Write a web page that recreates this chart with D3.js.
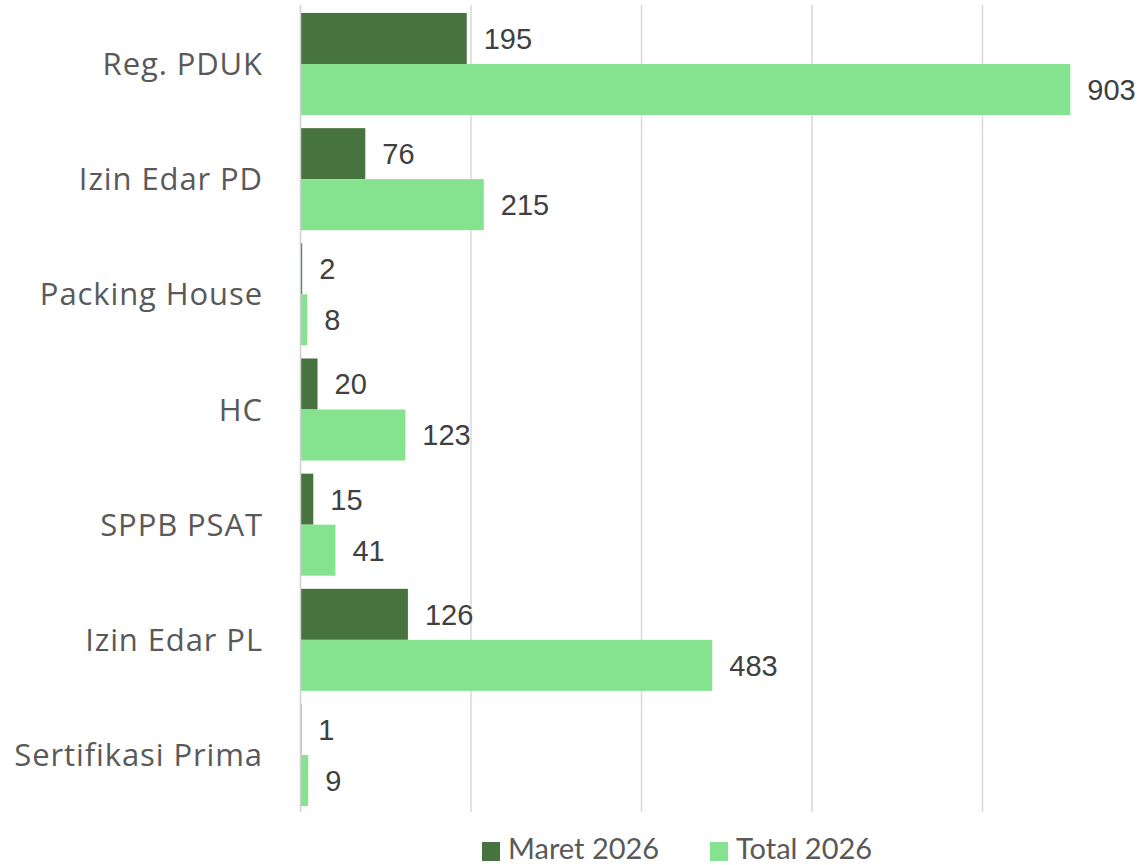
<!DOCTYPE html>
<html><head><meta charset="utf-8">
<script src="https://cdn.jsdelivr.net/npm/d3@7"></script>
<style>body{margin:0;background:#fff}svg{display:block}</style>
</head><body>
<svg id="c" width="1142" height="865"></svg>
<script>
const categories = ["Reg. PDUK","Izin Edar PD","Packing House","HC","SPPB PSAT","Izin Edar PL","Sertifikasi Prima"];
const maret2026 = [195,76,2,20,15,126,1];
const total2026 = [903,215,8,123,41,483,9];
const seriesNames = ["Maret 2026","Total 2026"];
const gridTicks = [200,400,600,800];
const colors = ["#47733F","#85E390"];

const svg = d3.select("#c");
const x = d3.scaleLinear().domain([0,800]).range([300.5,982.5]);
const y = d3.scaleBand().domain(categories).range([6.4,812.6]).paddingInner(0.114).paddingOuter(0.057);
const ySub = d3.scaleBand().domain(seriesNames).range([0,y.bandwidth()]);

svg.append("g").selectAll("line").data(gridTicks).join("line")
  .attr("x1",d=>x(d)).attr("x2",d=>x(d)).attr("y1",5).attr("y2",812)
  .attr("stroke","#d9d9d9").attr("stroke-width",1.5);

const rows = categories.map((c,i)=>({c, vals:[maret2026[i],total2026[i]]}));
const g = svg.append("g").selectAll("g").data(rows).join("g")
  .attr("transform",d=>`translate(0,${y(d.c)})`);
g.selectAll("rect").data(d=>d.vals.map((v,k)=>({v,k}))).join("rect")
  .attr("x",x(0)).attr("y",d=>ySub(seriesNames[d.k]))
  .attr("width",d=>x(d.v)-x(0)).attr("height",ySub.bandwidth())
  .attr("fill",d=>colors[d.k]);
g.selectAll("text").data(d=>d.vals.map((v,k)=>({v,k}))).join("text")
  .attr("x",d=>x(d.v)+17).attr("y",d=>ySub(seriesNames[d.k])+ySub.bandwidth()/2)
  .attr("dy","0.36em").attr("font-family","Liberation Sans, Arial, sans-serif")
  .attr("font-size",29).attr("fill","#404040").text(d=>d.v);

svg.append("line").attr("x1",x(0)).attr("x2",x(0)).attr("y1",5).attr("y2",812)
  .attr("stroke","#d0d0d0").attr("stroke-width",1.5);

svg.append("g").selectAll("text").data(categories).join("text")
  .attr("x",263).attr("y",d=>y(d)+y.bandwidth()/2).attr("dy","0.36em")
  .attr("text-anchor","end").attr("font-family","Open Sans, sans-serif")
  .attr("font-size",31).attr("letter-spacing",0.9).attr("fill","#595959").text(d=>d);

const legX = [482,710];
const lg = svg.append("g").selectAll("g").data(seriesNames).join("g")
  .attr("transform",(d,i)=>`translate(${legX[i]},0)`);
lg.append("rect").attr("x",0).attr("y",842).attr("width",18).attr("height",19)
  .attr("fill",(d,i)=>colors[i]);
lg.append("text").attr("x",26).attr("y",859).attr("font-family","Lato, sans-serif")
  .attr("font-size",29).attr("fill","#595959").text(d=>d);
</script>
</body></html>
